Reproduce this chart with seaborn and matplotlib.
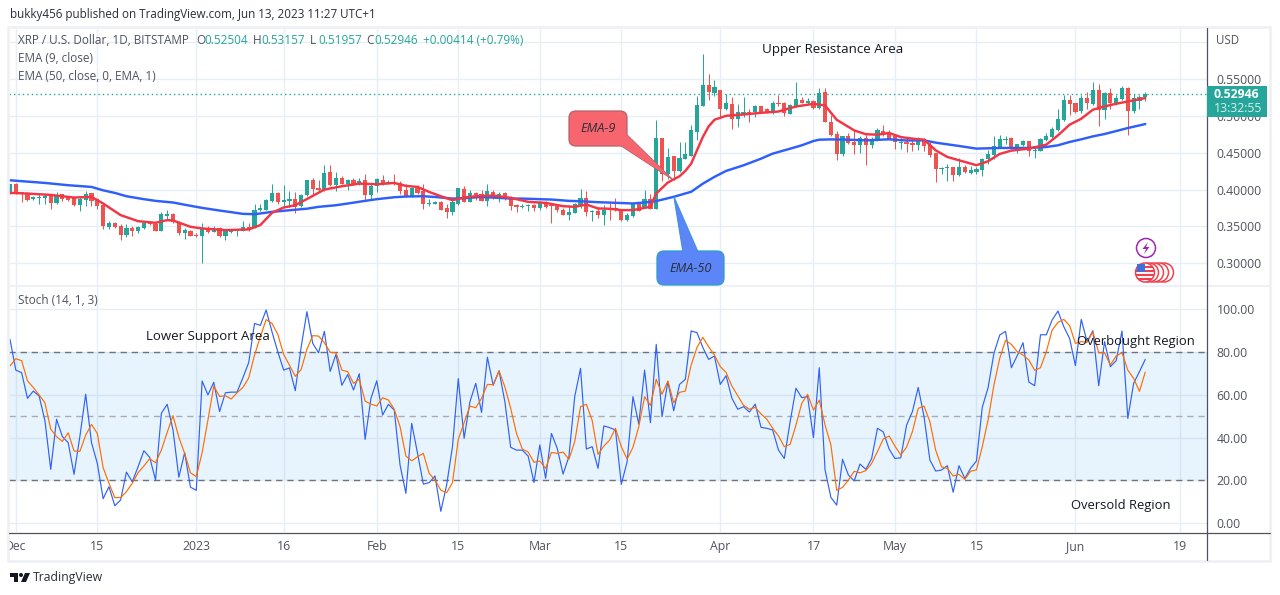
import numpy as np
import pandas as pd
import matplotlib
matplotlib.use("Agg")
import matplotlib.pyplot as plt
from matplotlib.patches import Rectangle, Polygon, FancyBboxPatch, Circle
import seaborn as sns

# ---------- data ----------
days = list(range(-1, 195))   # days since 1 Dec 2022

opens = [
 .3946,.4081,.3964,.3955,.3870,.3888,.3888,.3910,.3816,.3941,
 .3901,.3883,.3789,.3856,.3951,.3870,.3793,.3487,.3550,.3505,
 .3384,.3478,.3438,.3478,.3550,.3532,.3438,.3645,.3667,.3564,
 .3415,.3442,.3384,.3370,.3469,.3429,.3478,.3370,.3429,.3447,
 .3442,.3487,.3483,.3721,.3730,.3842,.3955,.3838,.3843,.3870,
 .3775,.3924,.4126,.4027,.3991,.4234,.4059,.4162,.4081,.4126,
 .4072,.4126,.3924,.4050,.4126,.4090,.4104,.4090,.3991,.3901,
 .4027,.3977,.3807,.3807,.3834,.3748,.3694,.3802,.4005,.3834,
 .3951,.3946,.3847,.3968,.3914,.3951,.3888,.3789,.3766,.3775,
 .3789,.3744,.3820,.3780,.3780,.3730,.3658,.3685,.3789,.3883,
 .3699,.3708,.3654,.3749,.3744,.3722,.3587,.3641,.3803,.3767,
 .3871,.3740,.4703,.4208,.4451,.4253,.4419,.4460,.4780,.5131,
 .5423,.5306,.5356,.5090,.5166,.4955,.5027,.5054,.5045,.5126,
 .5090,.5058,.5176,.5171,.5027,.5126,.5216,.5180,.5207,.5099,
 .5329,.4914,.4748,.4478,.4721,.4640,.4600,.4694,.4600,.4677,
 .4789,.4771,.4722,.4632,.4645,.4627,.4600,.4681,.4609,.4492,
 .4276,.4290,.4303,.4195,.4303,.4222,.4235,.4263,.4411,.4465,
 .4582,.4672,.4699,.4555,.4600,.4654,.4523,.4523,.4668,.4713,
 .4803,.4938,.5208,.5167,.5059,.5244,.5163,.5356,.5077,.5302,
 .5158,.5221,.5374,.5059,.5203,.52504]
highs = [
 .4081,.4090,.3973,.3964,.3914,.3946,.3955,.3937,.3964,.3946,
 .3910,.3892,.3901,.3977,.3959,.3892,.3811,.3572,.3559,.3532,
 .3532,.3505,.3510,.3559,.3559,.3541,.3694,.3730,.3676,.3573,
 .3474,.3451,.3406,.3546,.3510,.3505,.3496,.3469,.3460,.3460,
 .3572,.3541,.3811,.3811,.3870,.4081,.3964,.4059,.3982,.3964,
 .3946,.4135,.4162,.4126,.4329,.4329,.4239,.4180,.4149,.4162,
 .4158,.4216,.4072,.4162,.4194,.4126,.4207,.4117,.4081,.4036,
 .4059,.4081,.3878,.3847,.3847,.3811,.3865,.4018,.4045,.4000,
 .3973,.4000,.4081,.4000,.3973,.3968,.3910,.3798,.3807,.3807,
 .3811,.3847,.3847,.3789,.3802,.3744,.3789,.3820,.4014,.3977,
 .3721,.3766,.3789,.3812,.3880,.3731,.3677,.3821,.3834,.4001,
 .3938,.4937,.4703,.4559,.4451,.4649,.4640,.4870,.5274,.5837,
 .5567,.5486,.5356,.5297,.5252,.5162,.5261,.5090,.5148,.5131,
 .5108,.5207,.5284,.5185,.5153,.5463,.5252,.5243,.5216,.5378,
 .5373,.5005,.4789,.4730,.4766,.4802,.4726,.4735,.4713,.4834,
 .4870,.4812,.4735,.4704,.4708,.4690,.4708,.4699,.4645,.4501,
 .4303,.4344,.4303,.4429,.4330,.4316,.4307,.4429,.4532,.4722,
 .4744,.4726,.4708,.4622,.4668,.4663,.4573,.4699,.4771,.4848,
 .5095,.5284,.5275,.5172,.5275,.5329,.5464,.5428,.5320,.5383,
 .5275,.5410,.5388,.5298,.5275,.53157]
lows = [
 .3937,.3946,.3834,.3847,.3856,.3807,.3807,.3734,.3811,.3847,
 .3852,.3784,.3712,.3775,.3780,.3734,.3469,.3465,.3483,.3316,
 .3352,.3370,.3415,.3465,.3519,.3433,.3438,.3586,.3550,.3379,
 .3334,.3366,.3361,.3010,.3415,.3424,.3352,.3316,.3415,.3370,
 .3442,.3442,.3478,.3712,.3721,.3834,.3811,.3766,.3766,.3685,
 .3766,.3915,.3946,.3982,.3982,.4050,.3982,.4077,.3991,.4068,
 .4068,.3865,.3878,.3968,.4068,.4072,.4068,.3946,.3901,.3896,
 .3946,.3734,.3780,.3798,.3721,.3609,.3654,.3789,.3829,.3829,
 .3865,.3843,.3780,.3878,.3829,.3865,.3721,.3699,.3753,.3712,
 .3712,.3721,.3744,.3550,.3690,.3654,.3586,.3676,.3744,.3640,
 .3572,.3618,.3519,.3587,.3713,.3578,.3578,.3632,.3709,.3758,
 .3731,.3740,.4118,.4150,.4136,.4244,.4410,.4451,.4676,.5126,
 .5220,.5270,.4982,.5081,.4820,.4847,.4982,.4914,.4982,.5040,
 .5036,.5027,.5126,.4991,.5018,.5117,.5171,.5162,.5094,.5090,
 .4910,.4730,.4397,.4451,.4622,.4478,.4496,.4330,.4564,.4663,
 .4726,.4685,.4546,.4546,.4505,.4528,.4532,.4528,.4447,.4105,
 .4209,.4119,.4119,.4186,.4231,.4209,.4209,.4186,.4352,.4420,
 .4578,.4618,.4546,.4492,.4591,.4451,.4429,.4519,.4659,.4704,
 .4789,.4924,.5005,.5041,.5041,.5095,.5140,.4861,.4951,.5095,
 .5149,.5208,.4735,.5041,.5086,.51957]
closes = [
 .4072,.3968,.3946,.3856,.3896,.3905,.3914,.3816,.3928,.3870,
 .3856,.3789,.3874,.3946,.3847,.3775,.3505,.3546,.3487,.3384,
 .3478,.3438,.3492,.3541,.3532,.3438,.3667,.3672,.3559,.3415,
 .3456,.3370,.3370,.3465,.3420,.3469,.3370,.3442,.3442,.3456,
 .3492,.3469,.3721,.3748,.3861,.3955,.3829,.3856,.3874,.3766,
 .3924,.4126,.4014,.3991,.4230,.4059,.4162,.4081,.4126,.4072,
 .4117,.3924,.4045,.4140,.4072,.4104,.4072,.3977,.3910,.4027,
 .3959,.3802,.3820,.3829,.3730,.3694,.3834,.4018,.3834,.3951,
 .3924,.3847,.3977,.3910,.3946,.3870,.3775,.3766,.3780,.3789,
 .3744,.3820,.3766,.3775,.3721,.3658,.3694,.3802,.3883,.3699,
 .3712,.3654,.3730,.3726,.3722,.3587,.3654,.3812,.3713,.3871,
 .3740,.4703,.4217,.4442,.4253,.4433,.4478,.4802,.5140,.5423,
 .5320,.5387,.5090,.5180,.4955,.5058,.5058,.5018,.5126,.5045,
 .5045,.5176,.5158,.5036,.5140,.5234,.5180,.5198,.5104,.5315,
 .4914,.4735,.4478,.4721,.4631,.4600,.4694,.4600,.4681,.4803,
 .4735,.4690,.4645,.4645,.4618,.4609,.4672,.4587,.4474,.4276,
 .4290,.4308,.4195,.4303,.4235,.4263,.4280,.4420,.4478,.4591,
 .4681,.4686,.4555,.4613,.4654,.4523,.4537,.4681,.4722,.4816,
 .4951,.5208,.5154,.5046,.5244,.5172,.5356,.5082,.5307,.5167,
 .5239,.5383,.5064,.5239,.5248,.52946]

ema9_days = [-1,2,6,10,13,15,18,21,24,26,27,30,32,36,40,42,44,46,48,50,53,56,59,62,65,67,69,71,73,75,77,79,82,85,88,91,94,96,98,100,
             102,104,106,109,110,112,114,115,116,117,118,119,120,122,125,128,131,134,137,139,141,144,146,148,150,152,154,156,158,160,
             162,165,167,169,171,174,177,179,181,183,185,187,189,191,194]
ema9_vals = [.3955,.3946,.3928,.3892,.3901,.3811,.3654,.3572,.3550,.3586,.3581,.3496,.3473,.3451,.3460,.3519,.3685,.3757,.3788,.3872,
             .4000,.4045,.4081,.4072,.4090,.4050,.4036,.3968,.3910,.3856,.3892,.3910,.3919,.3888,.3834,.3820,.3775,.3766,.3798,.3744,
             .3740,.3722,.3722,.3767,.3947,.4096,.4181,.4253,.4352,.4532,.4712,.4856,.4946,.5000,.5018,.5040,.5058,.5126,.5162,.5140,
             .4946,.4802,.4750,.4744,.4767,.4712,.4690,.4677,.4532,.4442,.4397,.4330,.4384,.4483,.4528,.4555,.4609,.4735,.4879,.4960,
             .5082,.5127,.5163,.5194,.5240]
ema50_days = [-1,5,9,13,15,17,19,22,24,27,30,32,35,37,39,41,42,44,47,50,52,55,57,60,62,65,67,70,72,75,77,80,82,85,87,90,92,95,97,100,
              106,108,110,113,116,118,120,122,125,128,130,133,135,137,138,140,143,146,150,153,156,158,162,165,169,172,174,177,179,181,183,185,187,189,191,194]
ema50_vals = [.4126,.4090,.4059,.4036,.3990,.3955,.3910,.3870,.3847,.3825,.3780,.3752,.3716,.3694,.3671,.3667,.3676,.3698,.3720,.3741,.3766,.3788,.3811,.3847,.3870,.3896,.3906,.3910,.3900,.3878,.3883,.3900,.3892,.3878,.3878,.3870,.3865,.3847,.3842,.3829,
              .3812,.3825,.3844,.3902,.3970,.4080,.4172,.4253,.4329,.4419,.4487,.4554,.4600,.4658,.4676,.4680,.4676,.4667,.4681,.4665,.4667,.4636,.4591,.4555,.4564,.4564,.4564,.4577,.4600,.4645,.4681,.4721,.4753,.4793,.4834,.4888]

stoch_k = [
 86.0,71.6,70.4,58.4,61.8,59.5,48.0,25.2,48.6,40.5,37.7,22.9,40.5,60.3,37.7,28.0,11.5,17.1,8.2,10.9,
 23.9,19.4,26.4,33.9,30.8,20.2,51.4,55.6,43.6,21.5,33.0,16.9,15.4,66.5,60.0,65.9,52.2,61.0,61.3,61.3,
 68.0,75.1,93.4,92.5,99.7,89.5,80.2,71.6,72.6,62.0,82.2,98.9,84.1,79.7,89.7,71.0,79.0,64.5,69.5,62.3,
 69.9,39.2,58.4,66.6,50.6,55.6,52.9,27.2,14.0,46.7,32.7,18.3,19.0,22.1,5.6,17.9,35.8,67.6,39.7,56.8,
 65.4,51.8,77.6,64.5,71.3,56.8,35.5,34.2,34.2,31.4,19.1,36.6,21.0,42.0,35.0,23.0,31.1,59.2,72.4,34.7,
 35.8,25.7,45.5,44.7,43.6,18.2,28.8,59.2,46.4,71.6,47.0,83.6,49.8,66.2,52.6,64.9,67.3,89.9,89.1,82.2,
 76.6,78.2,64.9,69.0,58.4,53.3,54.5,52.0,55.7,44.8,44.4,43.6,34.2,30.3,47.5,63.1,58.7,59.2,40.0,72.7,
 24.9,12.1,8.5,29.9,22.6,19.8,27.7,25.2,30.3,44.4,42.7,34.7,30.3,30.6,45.9,52.2,63.5,49.8,29.6,24.4,
 24.9,26.9,14.5,26.9,21.0,25.7,29.1,54.2,63.4,79.4,88.0,89.7,72.7,78.3,84.4,66.0,64.3,88.1,88.1,95.0,
 99.2,91.9,86.4,73.7,95.3,84.9,90.0,64.3,84.9,73.2,76.0,89.9,49.0,65.4,70.9,76.6]
stoch_d = [
 73.5,76.9,76.0,66.6,63.5,60.0,56.3,44.0,40.5,38.3,42.3,33.8,33.6,41.2,46.2,42.0,26.0,18.7,12.0,12.0,
 14.8,18.7,23.6,26.8,30.2,28.3,34.2,42.5,50.3,40.2,32.7,23.6,21.8,33.0,48.3,64.1,59.3,59.6,58.1,61.0,
 63.5,67.9,78.6,87.2,95.2,93.4,88.3,79.0,73.8,68.7,71.8,81.3,87.7,87.5,84.4,79.9,79.7,71.6,70.9,65.4,
 67.3,57.1,55.7,54.8,58.7,57.6,53.3,45.1,31.4,29.2,31.1,32.7,23.3,20.2,15.5,14.3,19.0,39.2,47.0,54.8,
 54.0,58.4,64.9,64.8,71.2,63.8,53.7,42.0,34.7,33.3,28.5,29.1,25.7,33.1,32.7,33.3,29.9,38.1,54.5,55.6,
 48.0,32.2,36.1,38.9,44.4,35.8,30.0,35.5,45.1,59.2,55.1,67.3,60.3,66.5,56.3,61.2,61.8,74.0,82.2,86.9,
 82.5,78.6,73.2,70.5,64.1,59.6,55.1,53.3,54.2,51.1,48.6,44.4,40.8,35.8,36.9,45.9,56.1,60.3,52.9,57.6,
 45.9,36.6,15.4,16.8,20.2,24.3,23.6,24.6,28.0,33.5,39.4,40.8,36.1,31.9,35.6,42.8,53.7,54.8,47.5,34.2,
 26.4,25.7,22.1,22.9,20.5,24.3,25.0,35.8,48.3,64.6,77.1,85.5,83.6,80.2,78.6,76.3,71.5,72.7,80.2,90.3,
 93.9,95.3,92.4,84.1,84.9,84.6,89.5,79.7,79.7,74.0,78.2,79.7,71.6,67.7,61.7,70.7]

tick_days = [0, 14, 31, 46, 62, 76, 90, 104, 121, 137, 151, 165, 182, 200]
tick_labels = ["Dec", "15", "2023", "16", "Feb", "15", "Mar", "15", "Apr", "17", "May", "15", "Jun", "19"]
price_ticks = [0.30, 0.35, 0.40, 0.45, 0.50, 0.55, 0.60]
price_labels = ["0.30000", "0.35000", "0.40000", "0.45000", "0.50000", "0.55000", ""]
stoch_ticks = [0, 20, 40, 60, 80, 100]

# ---------- styling ----------
UP, DOWN = "#26a69a", "#ef5350"
GRID = "#e6eef6"
TXT = "#50535e"
FONT = "Open Sans"
sns.set_style("white")
plt.rcParams["font.family"] = [FONT, "DejaVu Sans"]

W, H = 1280, 595
fig = plt.figure(figsize=(W / 100, H / 100), dpi=100, facecolor="white")

def axrect(l, t, r, b):
    return [l / W, 1 - b / H, (r - l) / W, (b - t) / H]

ax1 = fig.add_axes(axrect(9, 29, 1207, 285))
ax2 = fig.add_axes(axrect(9, 286, 1207, 532), sharex=ax1)

frame = pd.DataFrame({"day": days, "open": opens, "high": highs, "low": lows, "close": closes,
                      "k": stoch_k, "d": stoch_d})
frame["up"] = frame["close"] >= frame["open"]

# candles
ax1.vlines(frame["day"], frame["low"], frame["high"],
           colors=np.where(frame["up"], UP, DOWN), lw=0.72, zorder=3)
ax1.bar(frame["day"], (frame["close"] - frame["open"]).abs().clip(lower=0.0012),
        bottom=frame[["open", "close"]].min(axis=1), width=0.72,
        color=np.where(frame["up"], UP, DOWN), lw=0, zorder=3)

sns.lineplot(x=ema50_days, y=ema50_vals, ax=ax1, color="#2f5ffb", lw=1.75, errorbar=None, zorder=4)
sns.lineplot(x=ema9_days, y=ema9_vals, ax=ax1, color="#f23645", lw=1.75, errorbar=None, zorder=5)
ax1.axhline(closes[-1], color=UP, lw=1, ls=(0, (1, 2.2)), zorder=2)

# stochastic
ax2.axhspan(20, 80, color="#2196f3", alpha=0.10, lw=0, zorder=1)
for lev, col in [(80, "#6f7280"), (20, "#6f7280"), (50, "#a8abb3")]:
    ax2.axhline(lev, color=col, lw=1.0, ls=(0, (4.5, 3.5)), zorder=2)
sns.lineplot(data=frame, x="day", y="k", ax=ax2, color="#2f62f5", lw=0.85, errorbar=None, zorder=4)
sns.lineplot(data=frame, x="day", y="d", ax=ax2, color="#ff6d00", lw=0.85, errorbar=None, zorder=5)

# axes
ax1.set_xlim(-1.17, 204.6)
ax1.set_ylim(0.2707, 0.6176)
ax2.set_ylim(-4.07, 110.9)
ax1.set_yticks(price_ticks)
ax1.set_yticklabels(price_labels)
ax2.set_yticks(stoch_ticks)
ax2.set_yticklabels([f"{v:.2f}" for v in stoch_ticks])
ax2.set_xticks(tick_days)
ax2.set_xticklabels(tick_labels)
ax1.tick_params(axis="x", labelbottom=False, length=0)
for a in (ax1, ax2):
    a.set_xlabel(""); a.set_ylabel("")
    a.yaxis.tick_right()
    a.tick_params(axis="y", length=0, pad=7, labelsize=8.8, labelcolor=TXT)
    a.grid(True, color=GRID, lw=1.0, zorder=0)
    a.set_axisbelow(True)
    for s in a.spines.values():
        s.set_visible(False)
ax2.tick_params(axis="x", length=0, pad=6, labelsize=8.8, labelcolor=TXT)

# overlay in pixel space: frame, legend, notes, callouts
ov = fig.add_axes([0, 0, 1, 1], facecolor="none", zorder=10)
ov.set_xlim(0, W); ov.set_ylim(H, 0); ov.axis("off")

BORDER = "#eef0f5"
ov.add_patch(Rectangle((0, 534), 8, 25, fc="white", ec="none"))   # first tick label is cut by the pane edge
ov.add_patch(Rectangle((8, 26.5), 1262, 534, fill=False, ec=BORDER, lw=1.9))
ov.plot([9, 1270], [285.5, 285.5], color=BORDER, lw=1.4)
ov.plot([1207, 1207], [28, 560], color="#50535e", lw=0.9)
ov.plot([9, 1270], [532.5, 532.5], color="#50535e", lw=0.9)

def T(x, y, s, size=8.8, color=TXT, ha="left", **kw):
    ov.text(x, y, s, fontsize=size, color=color, ha=ha, va="center", **kw)

T(10, 14.5, "bukky456 published on TradingView.com, Jun 13, 2023 11:27 UTC+1", size=8.35, color="#2a2e39")
T(18, 41, "XRP / U.S. Dollar, 1D, BITSTAMP", size=8.5)
for x, s in [(196, "O"), (253, "H"), (310, "L"), (366, "C")]:
    T(x, 41, s, size=8.5)
for x, s in [(204, "0.52504"), (261, "0.53157"), (318, "0.51957"), (374, "0.52946"), (423, "+0.00414 (+0.79%)")]:
    T(x, 41, s, size=8.5, color=UP)
T(18, 59, "EMA (9, close)", size=8.5)
T(18, 76, "EMA (50, close, 0, EMA, 1)", size=8.5)
T(18, 301, "Stoch (14, 1, 3)", size=8.5)
T(1216, 40.5, "USD", size=8.3)

T(833, 50, "Upper Resistance Area", size=9.6, color="#131722", ha="center")
T(146, 336.5, "Lower Support Area", size=9.5, color="#131722")
T(1077, 341.5, "Overbought Region", size=9.4, color="#131722")
T(1071, 505.5, "Oversold Region", size=9.4, color="#131722")

# last-price tag
ov.add_patch(Rectangle((1207, 86), 60, 31, fc=UP, ec="none", zorder=5))
T(1214, 94.5, f"{closes[-1]:.5f}", size=8.8, color="white", weight="bold", zorder=6)
T(1214, 109, "13:32:55", size=8.8, color="#d5f0ec", zorder=6)

# callouts
def callout(x0, y0, x1, y1, tail, fc, ec, label):
    ov.add_patch(Polygon(tail, closed=True, fc=fc, ec=ec, lw=0.9, zorder=3))
    ov.add_patch(FancyBboxPatch((x0 + 6, y0 + 6), x1 - x0 - 12, y1 - y0 - 12,
                                boxstyle="round,pad=6,rounding_size=7", fc=fc, ec=ec, lw=0.9, zorder=3))
    ov.add_patch(Polygon(tail, closed=True, fc=fc, ec="none", zorder=3.5))
    T((x0 + x1) / 2, (y0 + y1) / 2, label, size=9.2, color="#2a2e39", ha="center", style="italic", zorder=4)

callout(569, 111, 627, 146, [(626, 134), (620, 145), (672, 179)], "#f7656f", "#b4606a", "EMA-9")
callout(657, 251, 724, 285, [(683, 252), (698, 252), (674, 197)], "#5c85f7", "#2a9fc9", "EMA-50")

# small badges
ov.add_patch(Circle((1146, 248), 9.5, fc="white", ec="#9c27b0", lw=1.1, zorder=3))
ov.add_patch(Polygon([(1148, 242), (1142.5, 249), (1146, 249), (1144, 254), (1149.5, 247), (1146, 247)],
                     closed=True, fc="#9c27b0", ec="none", zorder=4))
for cx in (1164, 1159, 1154, 1149):
    ov.add_patch(Circle((cx, 272.5), 9.5, fc="white", ec="#f0404f", lw=1.1, zorder=3))
c = Circle((1145, 272.5), 9.5, fc="white", ec="#f0404f", lw=1.1, zorder=3)
ov.add_patch(c)
for yy in (267, 271, 275, 279):
    ln, = ov.plot([1136, 1155], [yy, yy], color="#f0404f", lw=1.5, zorder=4)
    ln.set_clip_path(c)
ov.add_patch(Rectangle((1137, 264), 8, 8, fc="#3f6fd8", ec="none", zorder=5))

# footer logo
ov.add_patch(Polygon([(10, 573), (18, 573), (18, 582), (14, 582), (14, 577), (10, 577)], closed=True, fc="#131722", ec="none"))
ov.add_patch(Circle((21, 575), 2, fc="#131722", ec="none"))
ov.add_patch(Polygon([(25, 573), (30, 573), (26, 582), (21, 582)], closed=True, fc="#131722", ec="none"))
T(33, 577.5, "TradingView", size=8.8, color="#2a2e39")

fig.savefig("out.png", dpi=100, facecolor="white")
